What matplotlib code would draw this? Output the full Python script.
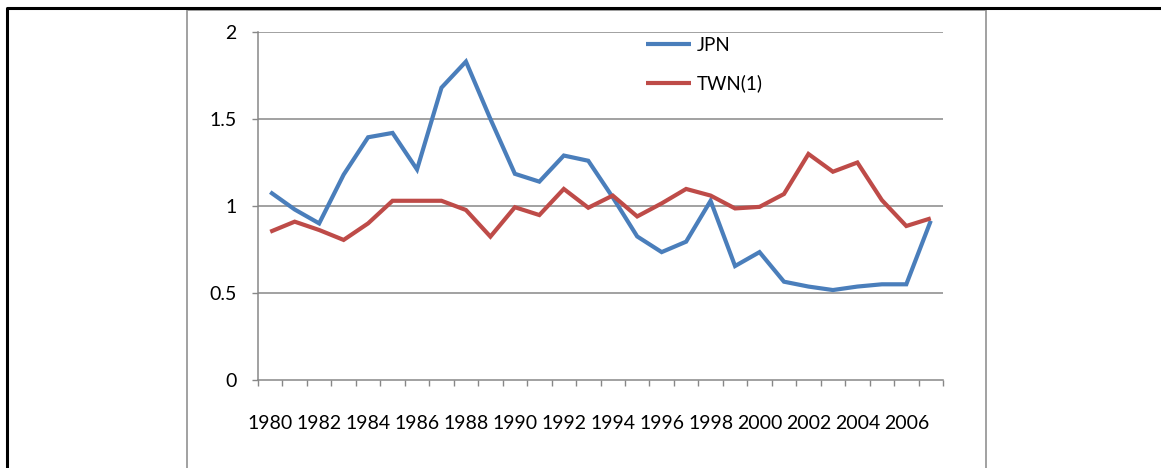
import matplotlib

matplotlib.use("Agg")
import matplotlib.pyplot as plt  # noqa: E402
from matplotlib.lines import Line2D  # noqa: E402
from matplotlib.ticker import FixedLocator, FuncFormatter  # noqa: E402

years = list(range(1980, 2008))
jpn = [1.08, 0.98, 0.90, 1.18, 1.395, 1.42, 1.21, 1.68, 1.83, 1.50,
       1.185, 1.14, 1.29, 1.26, 1.05, 0.825, 0.735, 0.795, 1.03, 0.655,
       0.735, 0.565, 0.537, 0.517, 0.537, 0.55, 0.55, 0.915]
twn = [0.852, 0.91, 0.862, 0.805, 0.90, 1.03, 1.03, 1.03, 0.977, 0.824,
       0.993, 0.948, 1.098, 0.99, 1.06, 0.94, 1.015, 1.098, 1.06, 0.986,
       0.995, 1.069, 1.299, 1.197, 1.25, 1.034, 0.885, 0.929]
series_names = ["JPN", "TWN(1)"]
y_ticks = [0, 0.5, 1, 1.5, 2]

W, H = 1161, 468
GRAY = "#878787"
COLORS = ["#4A7EBB", "#BE4B48"]

plt.rcParams["font.family"] = ["Lato", "DejaVu Sans"]

fig = plt.figure(figsize=(W / 100, H / 100), dpi=100)
ax = fig.add_axes([258 / W, (H - 380) / H, (943 - 258) / W, (380 - 32) / H])

x = list(range(len(years)))
for vals, name, c in zip([jpn, twn], series_names, COLORS):
    ax.plot(x, vals, color=c, lw=3.0, label=name, solid_joinstyle="miter",
            solid_capstyle="butt")

ax.set_xlim(-0.5, len(years) - 0.5)
ax.set_ylim(0, 2)

# y axis: gridlines and outward ticks
ax.set_yticks(y_ticks)
ax.yaxis.set_major_formatter(FuncFormatter(lambda v, _: f"{v:g}"))
for v in y_ticks[1:]:
    ax.axhline(v, color=GRAY, lw=1.1, zorder=0.5)
ax.tick_params(axis="y", direction="out", length=4.5, width=1, color=GRAY,
               labelsize=14, pad=11, labelcolor="black")

# x axis: ticks between categories, labels on every other year
ax.xaxis.set_major_locator(FixedLocator([i - 0.5 for i in range(len(years) + 1)]))
ax.xaxis.set_major_formatter(FuncFormatter(lambda v, _: ""))
ax.xaxis.set_minor_locator(FixedLocator(x[::2]))
ax.xaxis.set_minor_formatter(FuncFormatter(lambda v, _: str(years[int(round(v))])))
ax.tick_params(axis="x", which="major", direction="out", length=4.5, width=1,
               color=GRAY)
ax.tick_params(axis="x", which="minor", length=0, labelsize=14, pad=25)

for s in ["top", "right"]:
    ax.spines[s].set_visible(False)
for s in ["left", "bottom"]:
    ax.spines[s].set_color(GRAY)
    ax.spines[s].set_linewidth(1.1)

ax.legend(loc="upper left", bbox_to_anchor=(646 / W, (H - 37) / H),
          bbox_transform=fig.transFigure, frameon=False, fontsize=13.5,
          handlelength=2.4, handletextpad=0.3, labelspacing=1.1,
          borderpad=0, borderaxespad=0)

# chart border and surrounding frame
fig.add_artist(Line2D([187 / W, 187 / W, 986 / W, 986 / W],
                      [0, (H - 10) / H, (H - 10) / H, 0],
                      transform=fig.transFigure, color="#9a9a9a", lw=1.3))
fig.add_artist(Line2D([7 / W, 7 / W, 1], [0, (H - 7.5) / H, (H - 7.5) / H],
                      transform=fig.transFigure, color="black", lw=2.2))

fig.savefig("out.png", dpi=100)
